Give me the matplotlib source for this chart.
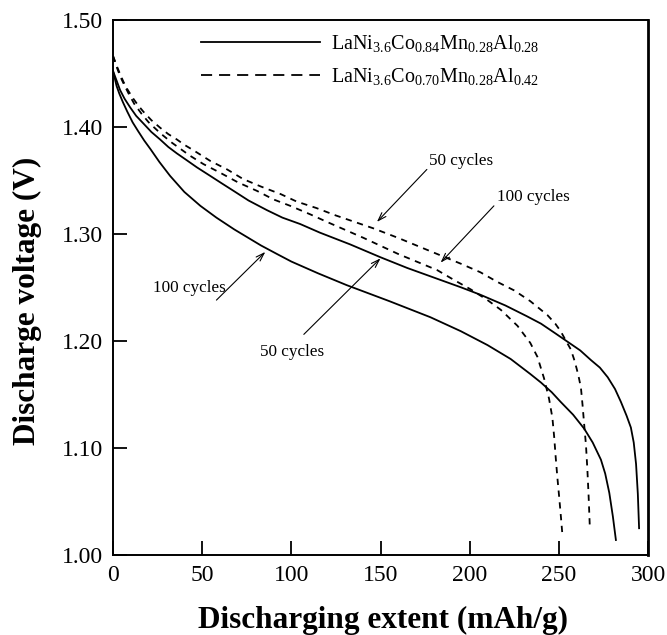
import matplotlib
matplotlib.use("Agg")
import matplotlib.pyplot as plt

# Discharge curves: capacity (mAh/g) vs voltage (V)
s50_x = [0, 2, 4, 6.5, 9.6, 13, 17, 21.5, 26.4, 31, 35.8, 41, 47, 54.5, 61, 67.6, 76,
         86.3, 95, 105, 116, 133, 150, 165, 180, 195, 206, 220, 232, 240, 248, 255,
         262, 268, 273, 277.4, 281.5, 284.8, 288, 290.4, 292, 293.3, 294.3, 295]
s50_v = [1.452, 1.443, 1.434, 1.426, 1.418, 1.410, 1.403, 1.395, 1.388, 1.381, 1.375,
         1.369, 1.362, 1.354, 1.347, 1.340, 1.331, 1.322, 1.315, 1.309, 1.301, 1.290,
         1.278, 1.268, 1.259, 1.250, 1.243, 1.233, 1.223, 1.216, 1.207, 1.199, 1.191,
         1.182, 1.175, 1.166, 1.155, 1.143, 1.130, 1.119, 1.105, 1.085, 1.057, 1.025]

s100_x = [0, 1, 2, 3.5, 5.5, 8, 11, 14, 17.5, 21, 26, 32, 40, 49, 58, 68, 75, 83, 92,
          100, 115, 131, 155, 178, 195, 210, 223, 234, 240, 246, 251, 258, 264.2, 269,
          273.6, 276, 278.3, 280.3, 282]
s100_v = [1.452, 1.445, 1.438, 1.431, 1.423, 1.414, 1.404, 1.396, 1.387, 1.379, 1.367,
          1.354, 1.339, 1.326, 1.315, 1.304, 1.297, 1.289, 1.281, 1.274, 1.263, 1.252,
          1.237, 1.222, 1.209, 1.196, 1.183, 1.169, 1.161, 1.152, 1.143, 1.131, 1.118,
          1.105, 1.089, 1.076, 1.058, 1.036, 1.014]

d50_x = [0, 2, 4, 5.8, 8, 11, 14, 17, 21.5, 26.4, 31, 35.8, 40, 45, 54.5, 64, 73, 83,
         94, 103, 114, 125, 146, 160, 176, 195, 206, 215.5, 225, 234, 243.6, 248, 251,
         254, 256.7, 258.5, 260, 261.3, 262.4, 263.3, 264.2, 265.2, 266, 266.7, 267.4]
d50_v = [1.466, 1.457, 1.449, 1.442, 1.435, 1.427, 1.420, 1.414, 1.406, 1.399, 1.393,
         1.388, 1.383, 1.378, 1.368, 1.360, 1.351, 1.344, 1.337, 1.330, 1.324, 1.317,
         1.305, 1.296, 1.285, 1.272, 1.264, 1.255, 1.247, 1.237, 1.224, 1.216, 1.209,
         1.200, 1.192, 1.183, 1.174, 1.165, 1.156, 1.140, 1.122, 1.103, 1.080, 1.055,
         1.025]

d100_x = [0, 2, 4, 6, 9, 12, 16, 20, 26.4, 33, 43, 50.7, 60, 70, 80.7, 90, 99.4, 110.7,
          120, 140.6, 160, 181.8, 191, 200.6, 210, 217.4, 226.8, 234, 238, 241.7, 244.5,
          246.4, 247.4, 248.3, 249.2, 250.2, 251.2, 252.1]
d100_v = [1.466, 1.456, 1.447, 1.440, 1.430, 1.421, 1.412, 1.404, 1.394, 1.385, 1.373,
          1.365, 1.357, 1.348, 1.340, 1.332, 1.326, 1.318, 1.311, 1.296, 1.281, 1.266,
          1.257, 1.248, 1.238, 1.229, 1.214, 1.198, 1.185, 1.165, 1.146, 1.128, 1.110,
          1.090, 1.072, 1.054, 1.035, 1.017]

label_a = r'LaNi$_{3.6}$Co$_{0.84}$Mn$_{0.28}$Al$_{0.28}$'
label_b = r'LaNi$_{3.6}$Co$_{0.70}$Mn$_{0.28}$Al$_{0.42}$'

# annotation text, arrow tail and arrow tip in data units
notes = [
    ('50 cycles', (195, 1.368), (176, 1.360), (148, 1.311)),
    ('100 cycles', (236, 1.334), (213.6, 1.326), (183.7, 1.273)),
    ('100 cycles', (43, 1.249), (58, 1.238), (85.4, 1.283)),
    ('50 cycles', (100.5, 1.190), (107, 1.206), (150, 1.277)),
]

plt.rcParams['font.family'] = ['Liberation Serif', 'DejaVu Serif']
plt.rcParams['mathtext.fontset'] = 'custom'
plt.rcParams['mathtext.rm'] = 'Liberation Serif'
plt.rcParams['mathtext.it'] = 'Liberation Serif:italic'
plt.rcParams['lines.scale_dashes'] = False

fig = plt.figure(figsize=(6.67, 6.35), dpi=100)
ax = fig.add_axes([113 / 667, 1 - 555 / 635, 535 / 667, 535.5 / 635])

ax.plot(s50_x, s50_v, color='black', lw=1.3, label=label_a)
ax.plot(s100_x, s100_v, color='black', lw=1.3)
ax.plot(d50_x, d50_v, color='black', lw=1.3, dashes=(4.5, 4), label=label_b)
ax.plot(d100_x, d100_v, color='black', lw=1.3, dashes=(4.5, 4))

for text, tpos, tail, tip in notes:
    ax.annotate('', xy=tip, xytext=tail,
                arrowprops=dict(arrowstyle='->,head_length=0.6,head_width=0.2',
                                lw=0.8, color='black', shrinkA=0, shrinkB=0))
    ax.text(tpos[0], tpos[1], text, fontsize=12.3, ha='center', va='center')

ax.set_xlim(0, 300)
ax.set_ylim(1.0, 1.5)
ax.set_xticks([0, 50, 100, 150, 200, 250, 300])
ax.set_yticks([1.0, 1.1, 1.2, 1.3, 1.4, 1.5])
ax.set_yticklabels([f'{t:.2f}' for t in [1.0, 1.1, 1.2, 1.3, 1.4, 1.5]])
ax.tick_params(direction='in', length=10, width=1.3, labelsize=17, pad=7)
for side in ['left', 'bottom', 'top']:
    ax.spines[side].set_linewidth(1.4)
ax.spines['right'].set_linewidth(2.0)

ax.set_xlabel('Discharging extent (mAh/g)', fontsize=22.5, fontweight='bold')
ax.set_ylabel('Discharge voltage (V)', fontsize=22.5, fontweight='bold')
ax.xaxis.set_label_coords(0.505, -0.095)
ax.yaxis.set_label_coords(-0.133, 0.475)

leg = ax.legend(loc='upper left', bbox_to_anchor=(0.14, 1.0), frameon=False, fontsize=14.5,
                handlelength=5.9, handletextpad=0.55, labelspacing=0.6, borderaxespad=0.25)
leg.get_lines()[1].set_dashes((8, 5))

fig.savefig('out.png', dpi=100)
